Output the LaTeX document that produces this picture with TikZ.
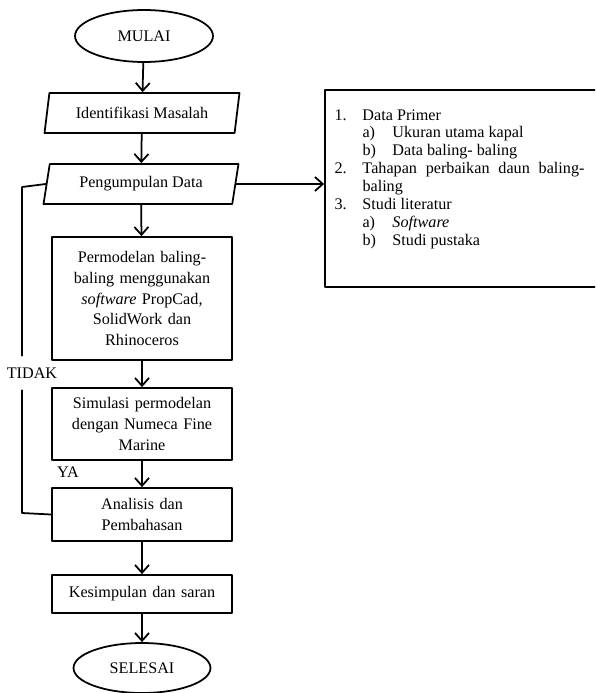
\documentclass[tikz,border=0pt]{standalone}
\usepackage{fontspec}
\setmainfont{Liberation Serif}
\usetikzlibrary{arrows.meta,shapes.geometric}

\begin{document}
\begin{tikzpicture}[line cap=round,line join=round,>={Straight Barb[length=4.5pt,width=8pt]},x=0.02cm,y=-0.02cm,
		every node/.style={font=\fontsize{9.2}{11.7}\selectfont},
		terminal/.style={draw,line width=1pt,ellipse,minimum width=2.76cm,minimum height=1.04cm,inner sep=0pt},
		data/.style={draw,line width=1pt,trapezium,trapezium left angle=67,trapezium right angle=113,trapezium stretches body,minimum width=3.9cm,minimum height=0.8cm,inner sep=0pt},
		proses/.style={draw,line width=1pt,rectangle,minimum width=3.6cm,text width=3.4cm,align=center,inner sep=0pt},
		panah/.style={->,line width=1pt},
		garis/.style={line width=1pt}]
		\clip (0,0) rectangle (595,693);
		% alur utama
		\node[terminal] (mulai) at (144,36) {MULAI};
		\node[data] (identifikasi) at (142,113) {Identifikasi Masalah};
		\node[data] (pengumpulan) at (141,184) {Pengumpulan Data};
		\node[proses,minimum height=2.46cm] (permodelan) at (142,298.5) {Permodelan baling-\\baling menggunakan\\\textit{software} PropCad,\\SolidWork dan\\Rhinoceros};
		\node[proses,minimum height=1.44cm] (simulasi) at (142,424) {Simulasi permodelan\\dengan Numeca Fine\\Marine};
		\node[proses,minimum height=1.06cm] (analisis) at (142,514.5) {Analisis dan\\Pembahasan};
		\node[proses,minimum height=0.76cm] (kesimpulan) at (142,594) {Kesimpulan dan saran};
		\node[terminal,minimum width=2.74cm,minimum height=1.0cm] (selesai) at (142,668) {SELESAI};
		\draw[panah] (mulai) -- (identifikasi);
		\draw[panah] (identifikasi) -- (pengumpulan);
		\draw[panah] (pengumpulan) -- (permodelan);
		\draw[panah] (permodelan) -- (simulasi);
		\draw[panah] (simulasi) -- (analisis);
		\draw[panah] (analisis) -- (kesimpulan);
		\draw[panah] (kesimpulan) -- (selesai);
		% umpan balik
		\node[minimum height=0.68cm,inner sep=0pt] (tidak) at (32,373) {TIDAK};
		\node (ya) at (68,472) {YA};
		\coordinate (belok1) at (22,187);
		\coordinate (belok2) at (22,513);
		\draw[garis] (pengumpulan.left side) -- (belok1) -- (belok1 |- tidak.north);
		\draw[garis] (belok1 |- tidak.south) -- (belok2) -- (analisis.west);
		% kotak data
		\node[draw,line width=1pt,minimum width=5.8cm,minimum height=3.94cm] (daftar) at (470,188.5) {};
		\node[anchor=north west,inner sep=0pt,font=\fontsize{9.2}{10.2}\selectfont] (isi) at ([shift={(10,18)}]daftar.north west) {%
			\begin{tabular}{@{}p{0.56cm}@{}p{4.44cm}@{}}
				1. & Data Primer\\
				& \makebox[0.6cm][l]{a)}Ukuran utama kapal\\
				& \makebox[0.6cm][l]{b)}Data baling- baling\\
				2. & Tahapan perbaikan daun baling-\linebreak baling\\
				3. & Studi literatur\\
				& \makebox[0.6cm][l]{a)}\textit{Software}\\
				& \makebox[0.6cm][l]{b)}Studi pustaka
			\end{tabular}};
		\draw[panah] (pengumpulan.right side) -- (pengumpulan.right side -| daftar.west);
	\end{tikzpicture}
\end{document}
